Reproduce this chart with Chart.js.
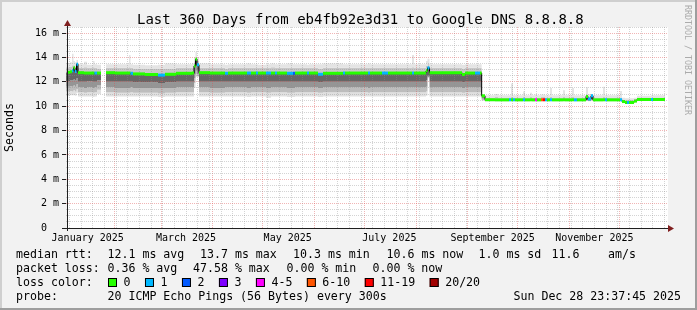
<!DOCTYPE html>
<html><head><meta charset="utf-8">
<style>html,body{margin:0;padding:0;background:#f2f2f2;overflow:hidden}canvas{display:block}</style>
<script src="https://cdn.jsdelivr.net/npm/chart.js@4.4.1/dist/chart.umd.min.js"></script>
</head><body>
<canvas id="c" width="697" height="310"></canvas>
<script>
// ---------- data ----------
const startUTC = Date.UTC(2025, 0, 2, 23, 37, 45);   // graph start (360 days before end)
const dayOf = s => (Date.parse(s + 'T00:00:00Z') - startUTC) / 86400000;

const days = [0.0,2.4,3.6,4.5,5.4,6.3,7.2,10.8,12.6,16.2,
17.1,18.6,21.0,21.1,24.0,29.4,37.8,38.7,40.2,47.4,
55.2,59.4,66.0,75.6,76.8,77.7,78.6,79.8,86.4,95.4,
97.2,108.6,111.0,114.0,115.2,120.0,123.0,125.4,126.6,132.6,
136.2,137.4,144.6,145.8,151.2,154.2,166.2,167.4,181.2,182.4,
189.6,193.2,207.6,208.8,216.0,216.9,218.1,237.6,239.4,245.4,
248.4,249.4,251.4,257.4,259.2,265.8,267.0,268.2,269.4,274.2,
275.4,278.4,279.6,281.4,282.6,285.0,286.2,287.4,288.6,290.4,
291.6,298.2,299.4,303.6,304.8,306.6,312.0,313.2,315.0,316.2,
322.2,323.4,324.6,332.4,333.6,335.4,336.6,337.8,340.8,342.6,
351.0,352.2,359.4];

const smokeMax = [13.5,13.6,14.3,13.7,13.6,13.8,13.45,13.65,13.4,13.7,
13.45,13.4,13.4,null,13.45,13.45,14.2,13.45,13.4,13.35,
13.4,13.5,13.45,13.5,14.0,14.45,14.0,13.5,13.45,13.4,
13.45,13.5,13.45,13.45,13.4,13.45,13.5,13.45,13.45,13.5,
13.45,13.45,13.4,13.45,13.45,13.5,13.45,13.45,13.5,13.45,
13.45,13.45,14.2,13.45,13.7,13.9,13.45,13.4,13.45,13.45,
13.45,10.95,10.9,11.0,10.9,10.9,11.86,10.9,10.9,11.2,
10.9,11.1,10.9,10.95,10.9,10.95,10.95,10.9,10.9,11.5,
10.9,11.3,10.9,11.5,10.9,10.9,11.55,11.0,11.0,10.9,
11.6,10.9,10.9,11.25,10.7,10.65,10.65,10.65,10.7,10.85,
10.9,10.9,10.9];

const smokeHi = [13.2,13.25,13.35,13.35,13.25,13.6,13.15,13.2,13.15,13.2,
13.15,13.1,13.1,null,13.15,13.15,13.2,13.15,13.1,13.05,
13.05,13.1,13.15,13.15,13.6,14.05,13.7,13.15,13.15,13.1,
13.15,13.15,13.15,13.15,13.15,13.15,13.2,13.15,13.15,13.15,
13.15,13.15,13.15,13.15,13.1,13.15,13.15,13.15,13.15,13.15,
13.15,13.15,13.2,13.15,13.3,13.5,13.15,13.1,13.15,13.15,
13.15,10.9,10.72,10.75,10.72,10.72,10.8,10.72,10.72,10.75,
10.72,10.75,10.72,10.72,10.72,10.75,10.75,10.72,10.72,10.75,
10.72,10.75,10.72,10.75,10.72,10.72,10.95,10.8,10.95,10.72,
10.75,10.72,10.72,10.72,10.55,10.5,10.5,10.5,10.6,10.72,
10.72,10.72,10.72];

const median = [12.78,12.82,12.9,13.15,12.85,13.45,12.75,12.72,12.72,12.72,
12.72,12.72,12.72,null,12.75,12.72,12.72,12.7,12.65,12.6,
12.55,12.62,12.7,12.72,13.3,13.85,13.4,12.75,12.72,12.7,
12.72,12.72,12.72,12.72,12.72,12.72,12.72,12.72,12.72,12.7,
12.7,12.72,12.72,12.72,12.62,12.7,12.72,12.72,12.72,12.72,
12.72,12.72,12.72,12.72,12.9,13.15,12.75,12.6,12.72,12.72,
12.72,10.85,10.53,10.52,10.52,10.52,10.52,10.52,10.52,10.52,
10.52,10.52,10.52,10.52,10.52,10.52,10.52,10.52,10.52,10.52,
10.52,10.52,10.52,10.52,10.52,10.52,10.8,10.6,10.85,10.52,
10.52,10.52,10.52,10.52,10.38,10.3,10.3,10.3,10.42,10.55,
10.55,10.55,10.55];

const smokeLo1 = [12.05,12.1,12.1,12.2,12.1,12.3,12.0,12.0,12.05,12.0,
12.0,12.1,12.1,null,12.0,12.0,12.0,12.0,11.95,11.95,
11.9,11.95,12.0,12.0,12.6,13.3,12.9,12.0,12.0,12.0,
12.0,12.0,12.0,12.0,12.0,12.0,12.0,12.0,12.0,12.0,
12.0,12.0,12.0,12.0,11.95,12.0,12.0,12.0,12.0,12.0,
12.0,12.0,12.0,12.0,12.1,12.5,12.0,11.95,12.0,12.0,
12.0,10.7,10.47,10.47,10.47,10.47,10.47,10.47,10.47,10.47,
10.47,10.47,10.47,10.47,10.47,10.47,10.47,10.47,10.47,10.47,
10.47,10.47,10.47,10.47,10.47,10.47,10.5,10.47,10.55,10.47,
10.47,10.47,10.47,10.47,10.34,10.27,10.27,10.27,10.38,10.5,
10.5,10.5,10.5];

const smokeLo2 = [11.6,11.65,11.6,11.7,11.6,11.8,11.55,11.5,11.55,11.5,
11.55,11.7,11.7,null,11.55,11.5,11.5,11.55,11.5,11.5,
11.45,11.5,11.55,11.55,12.3,12.9,12.6,11.55,11.5,11.55,
11.55,11.5,11.55,11.55,11.55,11.5,11.55,11.55,11.55,11.5,
11.5,11.55,11.55,11.55,11.5,11.55,11.55,11.55,11.5,11.55,
11.55,11.55,11.55,11.55,11.6,12.4,11.55,11.5,11.55,11.55,
11.55,10.6,10.45,10.45,10.45,10.45,10.45,10.45,10.45,10.45,
10.45,10.45,10.45,10.45,10.45,10.45,10.45,10.45,10.45,10.45,
10.45,10.45,10.45,10.45,10.45,10.45,10.47,10.45,10.5,10.45,
10.45,10.45,10.45,10.45,10.32,10.25,10.25,10.25,10.36,10.48,
10.48,10.48,10.48];

const smokeLo3 = [11.2,11.25,11.2,11.3,11.2,11.4,11.15,11.1,11.15,11.1,
11.15,11.35,11.35,null,11.15,11.1,11.1,11.15,11.1,11.1,
11.05,11.1,11.15,11.15,11.9,12.6,12.45,11.15,11.1,11.15,
11.15,11.1,11.15,11.15,11.15,11.1,11.15,11.15,11.15,11.1,
11.1,11.15,11.15,11.15,11.1,11.15,11.15,11.15,11.1,11.15,
11.15,11.15,11.15,11.15,11.2,12.35,11.15,11.1,11.15,11.15,
11.15,10.5,10.43,10.43,10.43,10.43,10.43,10.43,10.43,10.43,
10.43,10.43,10.43,10.43,10.43,10.43,10.43,10.43,10.43,10.43,
10.43,10.43,10.43,10.43,10.43,10.43,10.45,10.43,10.47,10.43,
10.43,10.43,10.43,10.43,10.3,10.23,10.23,10.23,10.34,10.46,
10.46,10.46,10.46];

const smokeMin = [10.85,10.9,10.9,10.9,10.85,11.1,10.8,10.8,10.8,10.75,
10.8,11.0,11.0,null,10.8,10.8,10.8,10.8,10.8,10.8,
10.75,10.8,10.8,10.8,11.5,12.4,12.4,10.8,10.8,10.8,
10.8,10.75,10.8,10.8,10.8,10.7,10.8,10.8,10.8,10.75,
10.75,10.8,10.8,10.8,10.75,10.8,10.8,10.8,10.8,10.8,
10.8,10.8,10.8,10.8,10.85,12.3,10.8,10.8,10.8,10.8,
10.8,10.45,10.4,10.4,10.4,10.4,10.4,10.4,10.4,10.4,
10.4,10.4,10.4,10.4,10.4,10.4,10.4,10.4,10.4,10.4,
10.4,10.4,10.4,10.4,10.4,10.4,10.42,10.4,10.45,10.4,
10.4,10.4,10.4,10.4,10.28,10.2,10.2,10.2,10.32,10.43,
10.43,10.43,10.43];

// pings lost out of 20 in each step
const lossCount = [0,0,1,0,1,1,0,0,0,0,
1,0,0,0,0,0,0,1,0,0,
1,0,0,0,0,0,1,0,0,1,
0,1,0,1,0,1,0,1,0,1,
2,0,1,0,1,0,1,0,1,0,
1,0,1,0,0,1,0,0,0,1,
0,0,0,0,0,1,0,1,0,1,
0,0,0,4,0,7,12,1,0,1,
0,0,0,0,1,0,0,1,1,0,
0,1,0,1,0,0,1,0,0,0,
1,0,0];

// axis ticks / labels
const xLabelTexts = ['January 2025','March 2025','May 2025','July 2025','September 2025','November 2025'];
const xLabelDates = ['2025-01-16','2025-03-16','2025-05-16','2025-07-16','2025-09-16','2025-11-16'];
const monthGridDates = ['2025-02-01','2025-03-01','2025-04-01','2025-05-01','2025-06-01','2025-07-01',
  '2025-08-01','2025-09-01','2025-10-01','2025-11-01','2025-12-01'];
const firstWeekDate = '2025-01-05';
const yMajorLabels = [0,2,4,6,8,10,12,14,16];

// legend
const titleText = 'Last 360 Days from eb4fb92e3d31 to Google DNS 8.8.8.8';
const rttLabel = 'median rtt:';
const rttStats = ['12.1 ms avg','13.7 ms max','10.3 ms min','10.6 ms now','1.0 ms sd','11.6','am/s'];
const lossLabel = 'packet loss:';
const lossStats = ['0.36 % avg','47.58 % max','0.00 % min','0.00 % now'];
const lossColorLabel = 'loss color:';
const lossBins   = [0, 1, 2, 3, 5, 10, 19, 20];
const lossLabels = ['0','1','2','3','4-5','6-10','11-19','20/20'];
const lossColors = ['#26ff00','#00b8ff','#0059ff','#7e00ff','#ff00ff','#ff5500','#ff0000','#a10000'];
const probeLabel = 'probe:';
const probeText = '20 ICMP Echo Pings (56 Bytes) every 300s';
const dateText = 'Sun Dec 28 23:37:45 2025';
const watermark = 'RRDTOOL / TOBI OETIKER';

// ---------- building ----------
function lossColor(n){ for (let i=0;i<lossBins.length;i++) if (n<=lossBins[i]) return lossColors[i]; return lossColors[lossColors.length-1]; }
const pts = arr => days.map((d,i)=>({x:d, y:arr[i]}));

const FONT = '"DejaVu Sans Mono", "Liberation Mono", monospace';
const RED = 'rgba(222,79,79,0.42)';
const GRAY = 'rgba(143,143,143,0.38)';

const xTicks = [];
const monthDays = monthGridDates.map(dayOf);
for (let t = dayOf(firstWeekDate); t < 361; t += 7) {
  if (!monthDays.some(m => Math.abs(m - t) < 0.01)) xTicks.push({v:t, kind:'week', label:''});
}
monthDays.forEach(v => xTicks.push({v, kind:'month', label:''}));
xLabelDates.forEach((s,i) => xTicks.push({v:dayOf(s), kind:'label', label:xLabelTexts[i]}));
xTicks.sort((a,b)=>a.v-b.v);

const yTicks = [];
for (let k = 0; k <= 33; k++) yTicks.push(k/2);

const smokeSeries = [smokeMax, smokeHi, median, smokeLo1, smokeLo2, smokeLo3, smokeMin];
const smokeFill = [null,'#e4e4e4','#c8c8c8','#666666','#959595','#bdbdbd','#e0e0e0'];
const datasets = smokeSeries.map((s,k)=>({
  data: pts(s), fill: k===0 ? false : '-1', backgroundColor: smokeFill[k] || 'rgba(0,0,0,0)',
  borderColor:'rgba(0,0,0,0)', borderWidth:0, pointRadius:0, stepped:true, spanGaps:false, tension:0
}));
// thin dark median (shows the vertical transitions)
datasets.push({data: pts(median), fill:false, borderColor:'#000', borderWidth:1, pointRadius:0,
  stepped:true, spanGaps:false, onTop:true});
// colored median runs, one horizontal run per step
const runs = [], runLoss = [];
for (let i=0;i<days.length-1;i++){
  if (median[i]==null) continue;
  runs.push({x:days[i],y:median[i]},{x:days[i+1],y:median[i]},{x:days[i+1],y:null});
  runLoss.push(lossCount[i]);
}
datasets.push({data: runs, fill:false, borderWidth:3, borderColor:lossColors[0], pointRadius:0,
  spanGaps:false, borderCapStyle:'butt', onTop:true,
  segment:{ borderColor: c => lossColor(runLoss[Math.floor(c.p0DataIndex/3)]) }});

const deco = {
  id:'deco',
  beforeDatasetDraw(chart, args){
    const ds = chart.data.datasets[args.index];
    if (ds.onTop && !chart.$top) return false;
  },
  beforeDraw(chart){
    const ctx = chart.ctx, a = chart.chartArea, W = chart.width, H = chart.height;
    ctx.save();
    ctx.fillStyle = '#f2f2f2'; ctx.fillRect(0,0,W,H);
    ctx.fillStyle = '#cfcfcf'; ctx.fillRect(0,0,W,2); ctx.fillRect(0,0,2,H);
    ctx.fillStyle = '#9e9e9e'; ctx.fillRect(0,H-2,W,2); ctx.fillRect(W-2,0,2,H);
    ctx.fillStyle = '#ffffff'; ctx.fillRect(a.left+1, a.top, a.right-a.left-1, a.bottom-a.top);
    ctx.restore();
  },
  afterDraw(chart){
    const ctx = chart.ctx, a = chart.chartArea;
    // median lines above the grid
    ctx.save();
    ctx.beginPath(); ctx.rect(a.left+1, a.top, a.right-a.left-1, a.bottom-a.top); ctx.clip();
    chart.$top = true;
    chart.data.datasets.forEach((ds,i)=>{ if (ds.onTop) chart.getDatasetMeta(i).controller.draw(); });
    chart.$top = false;
    ctx.restore();

    ctx.save();
    // axes
    ctx.strokeStyle = '#1f1f1f'; ctx.lineWidth = 1;
    ctx.beginPath(); ctx.moveTo(a.left-4, a.bottom+0.5); ctx.lineTo(a.right+1, a.bottom+0.5); ctx.stroke();
    ctx.beginPath(); ctx.moveTo(a.left+1.5, a.bottom+3); ctx.lineTo(a.left+1.5, a.top-4); ctx.stroke();
    ctx.fillStyle = '#801f1f';
    ctx.beginPath(); ctx.moveTo(a.right, a.bottom-3); ctx.lineTo(a.right+6, a.bottom+0.5); ctx.lineTo(a.right, a.bottom+4); ctx.closePath(); ctx.fill();
    ctx.beginPath(); ctx.moveTo(a.left-2, a.top-1); ctx.lineTo(a.left+1.5, a.top-7); ctx.lineTo(a.left+5, a.top-1); ctx.closePath(); ctx.fill();

    // title
    ctx.fillStyle = '#000'; ctx.textBaseline = 'alphabetic'; ctx.textAlign = 'left';
    ctx.font = '14px ' + FONT;
    ctx.fillText(titleText, 137, 24);

    // legend
    ctx.font = '11.6px ' + FONT;
    const L = 16, C = 107.5;
    const y1 = 258.3, y2 = 272.3, y3 = 286.3, y4 = 300.3;
    ctx.fillText(rttLabel, L, y1);
    const rttX = [C, 200, 293, 386.5, 478.5, 551.5, 608];
    rttStats.forEach((s,i)=>ctx.fillText(s, rttX[i], y1));
    ctx.fillText(lossLabel, L, y2);
    const lossX = [C, 193, 286.5, 372.5];
    lossStats.forEach((s,i)=>ctx.fillText(s, lossX[i], y2));
    ctx.fillText(lossColorLabel, L, y3);
    let bx = 108;
    lossLabels.forEach((s,i)=>{
      ctx.fillStyle = lossColors[i]; ctx.fillRect(bx, 278, 9, 9);
      ctx.strokeStyle = '#000'; ctx.lineWidth = 1; ctx.strokeRect(bx+0.5, 278.5, 8, 8);
      ctx.fillStyle = '#000';
      const tx = bx + 15.5;
      ctx.fillText(s, tx, y3);
      bx = tx + ctx.measureText(s).width + 14.5;
    });
    ctx.fillText(probeLabel, L, y4);
    ctx.fillText(probeText, C, y4);
    ctx.textAlign = 'right';
    ctx.fillText(dateText, 681, y4);

    // watermark
    ctx.textAlign = 'left'; ctx.textBaseline = 'middle';
    ctx.translate(687.5, 5); ctx.rotate(Math.PI/2);
    ctx.font = '8.3px ' + FONT; ctx.fillStyle = '#ababab';
    ctx.fillText(watermark, 0, 0);
    ctx.restore();
  }
};

new Chart(document.getElementById('c'), {
  type:'line',
  data:{ datasets },
  plugins:[deco],
  options:{
    responsive:false, animation:false, devicePixelRatio:1, events:[],
    layout:{ padding:{ left:0, right:29, top:27, bottom:0 } },
    plugins:{ legend:{display:false}, tooltip:{enabled:false}, title:{display:false} },
    elements:{ point:{radius:0}, line:{tension:0} },
    scales:{
      x:{
        type:'linear', min:0, max:361.2,
        afterFit: s => { s.height = 82; },
        afterBuildTicks: s => { s.ticks = xTicks.map(t=>({value:t.v})); },
        grid:{ z:1, lineWidth:1, drawTicks:false, tickLength:0,
          color: c => { const t = xTicks[c.index]; if (!t) return 'rgba(0,0,0,0)';
            return t.kind==='month' ? RED : (t.kind==='week' ? GRAY : 'rgba(0,0,0,0)'); } },
        border:{ display:false, dash:[1,1] },
        ticks:{ autoSkip:false, maxRotation:0, minRotation:0, padding:4, color:'#000',
          font:{ family:FONT, size:10 },
          callback:(v,i)=> xTicks[i] ? xTicks[i].label : '' }
      },
      y:{
        min:0, max:16.5,
        afterFit: s => { s.width = 66; },
        afterBuildTicks: s => { s.ticks = yTicks.map(v=>({value:v})); },
        grid:{ z:1, lineWidth:1, tickLength:4,
          color: c => (c.tick && yMajorLabels.includes(c.tick.value)) ? RED : GRAY,
          tickColor: c => (c.tick && yMajorLabels.includes(c.tick.value)) ? '#1f1f1f' : 'rgba(0,0,0,0)' },
        border:{ display:false, dash:[1,1] },
        ticks:{ autoSkip:false, padding:3, color:'#000', font:{ family:FONT, size:10 },
          callback: v => v===0 ? '0  ' : (yMajorLabels.includes(v) ? v + ' m' : '') },
        title:{ display:true, text:'Seconds', color:'#000', font:{ family:FONT, size:11.6 },
          padding:{ top:3, bottom:0 } }
      }
    }
  }
});
</script>
</body></html>
